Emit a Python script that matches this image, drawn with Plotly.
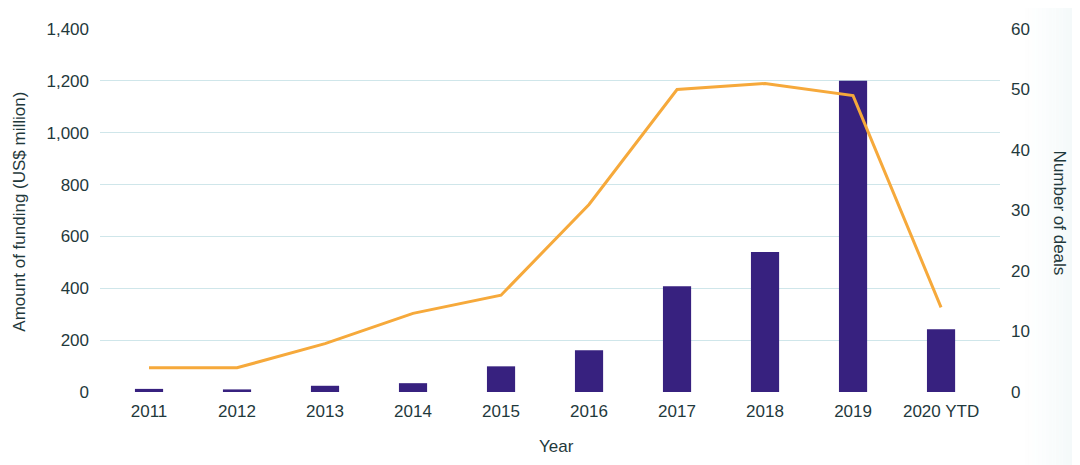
import plotly.graph_objects as go

years = ["2011", "2012", "2013", "2014", "2015", "2016", "2017", "2018", "2019", "2020 YTD"]
funding = [12, 10, 24, 34, 99, 161, 408, 540, 1200, 242]
deals = [4, 4, 8, 13, 16, 31, 50, 51, 49, 14]

left_ticks = [0, 200, 400, 600, 800, 1000, 1200, 1400]
left_labels = ["0", "200", "400", "600", "800", "1,000", "1,200", "1,400"]
right_ticks = [0, 10, 20, 30, 40, 50, 60]

text_color = "#1f393c"
grid_color = "#cfe6ea"
font_family = "Liberation Sans, Arial, sans-serif"

# page body has an 8px margin; plot area wanted at x 100..1000, y 22..391.7
OFF = 8
L, R, T, B = 100 - OFF, 1080 - (1000 - OFF), 22 - OFF, 465 - (391.7 - OFF)
PW, PH = 900, 369.7

def px_x(x):
    return (x - 100) / PW

def px_y(y):
    return (391.7 - y) / PH

fig = go.Figure()
fig.add_trace(go.Bar(x=years, y=funding, width=0.32,
                     marker=dict(color="#37217f", line=dict(width=0)),
                     yaxis="y", name="Funding"))
fig.add_trace(go.Scatter(x=years, y=deals, mode="lines", line=dict(color="#f6a93b", width=3),
                         yaxis="y2", name="Deals"))

shapes = []
n = 16
for i in range(n):
    x0 = 1025 + i * 55 / n
    x1 = 1025 + (i + 1) * 55 / n
    op = 0.01 + 0.13 * (i / (n - 1)) ** 1.3
    shapes.append(dict(type="rect", xref="paper", yref="paper",
                       x0=px_x(x0), x1=px_x(x1), y0=px_y(470), y1=px_y(-5),
                       fillcolor="rgba(160,205,210,%.3f)" % op, line=dict(width=0), layer="below"))

fig.update_layout(
    width=1080, height=465,
    margin=dict(l=L, r=R, t=T, b=B),
    paper_bgcolor="white", plot_bgcolor="rgba(0,0,0,0)",
    showlegend=False,
    font=dict(family=font_family, color=text_color, size=16),
    xaxis=dict(showgrid=False, showline=False, zeroline=False, ticks="",
               range=[-0.557, 9.67],
               tickfont=dict(size=17, color=text_color), ticklabelstandoff=7),
    yaxis=dict(range=[0, 1400], tickvals=left_ticks, ticktext=left_labels,
               showgrid=True, gridcolor=grid_color, gridwidth=1, zeroline=False,
               showline=False, ticks="", tickfont=dict(size=17, color=text_color),
               ticklabelstandoff=10),
    yaxis2=dict(range=[0, 60], tickvals=right_ticks, overlaying="y", side="right",
                showgrid=False, zeroline=False, showline=False, ticks="",
                tickfont=dict(size=17, color=text_color), ticklabelstandoff=10),
    shapes=shapes,
    annotations=[
        dict(text="Amount of funding (US$ million)", xref="paper", yref="paper",
             x=px_x(20), y=px_y(208), textangle=-90, showarrow=False,
             font=dict(size=17, color=text_color), xanchor="center", yanchor="middle"),
        dict(text="Number of deals", xref="paper", yref="paper",
             x=px_x(1059), y=px_y(209), textangle=90, showarrow=False,
             font=dict(size=17, color=text_color), xanchor="center", yanchor="middle"),
        dict(text="Year", xref="paper", yref="paper",
             x=px_x(556), y=px_y(447), showarrow=False,
             font=dict(size=17, color=text_color), xanchor="center", yanchor="middle"),
    ],
)

fig.write_html("out.html")
